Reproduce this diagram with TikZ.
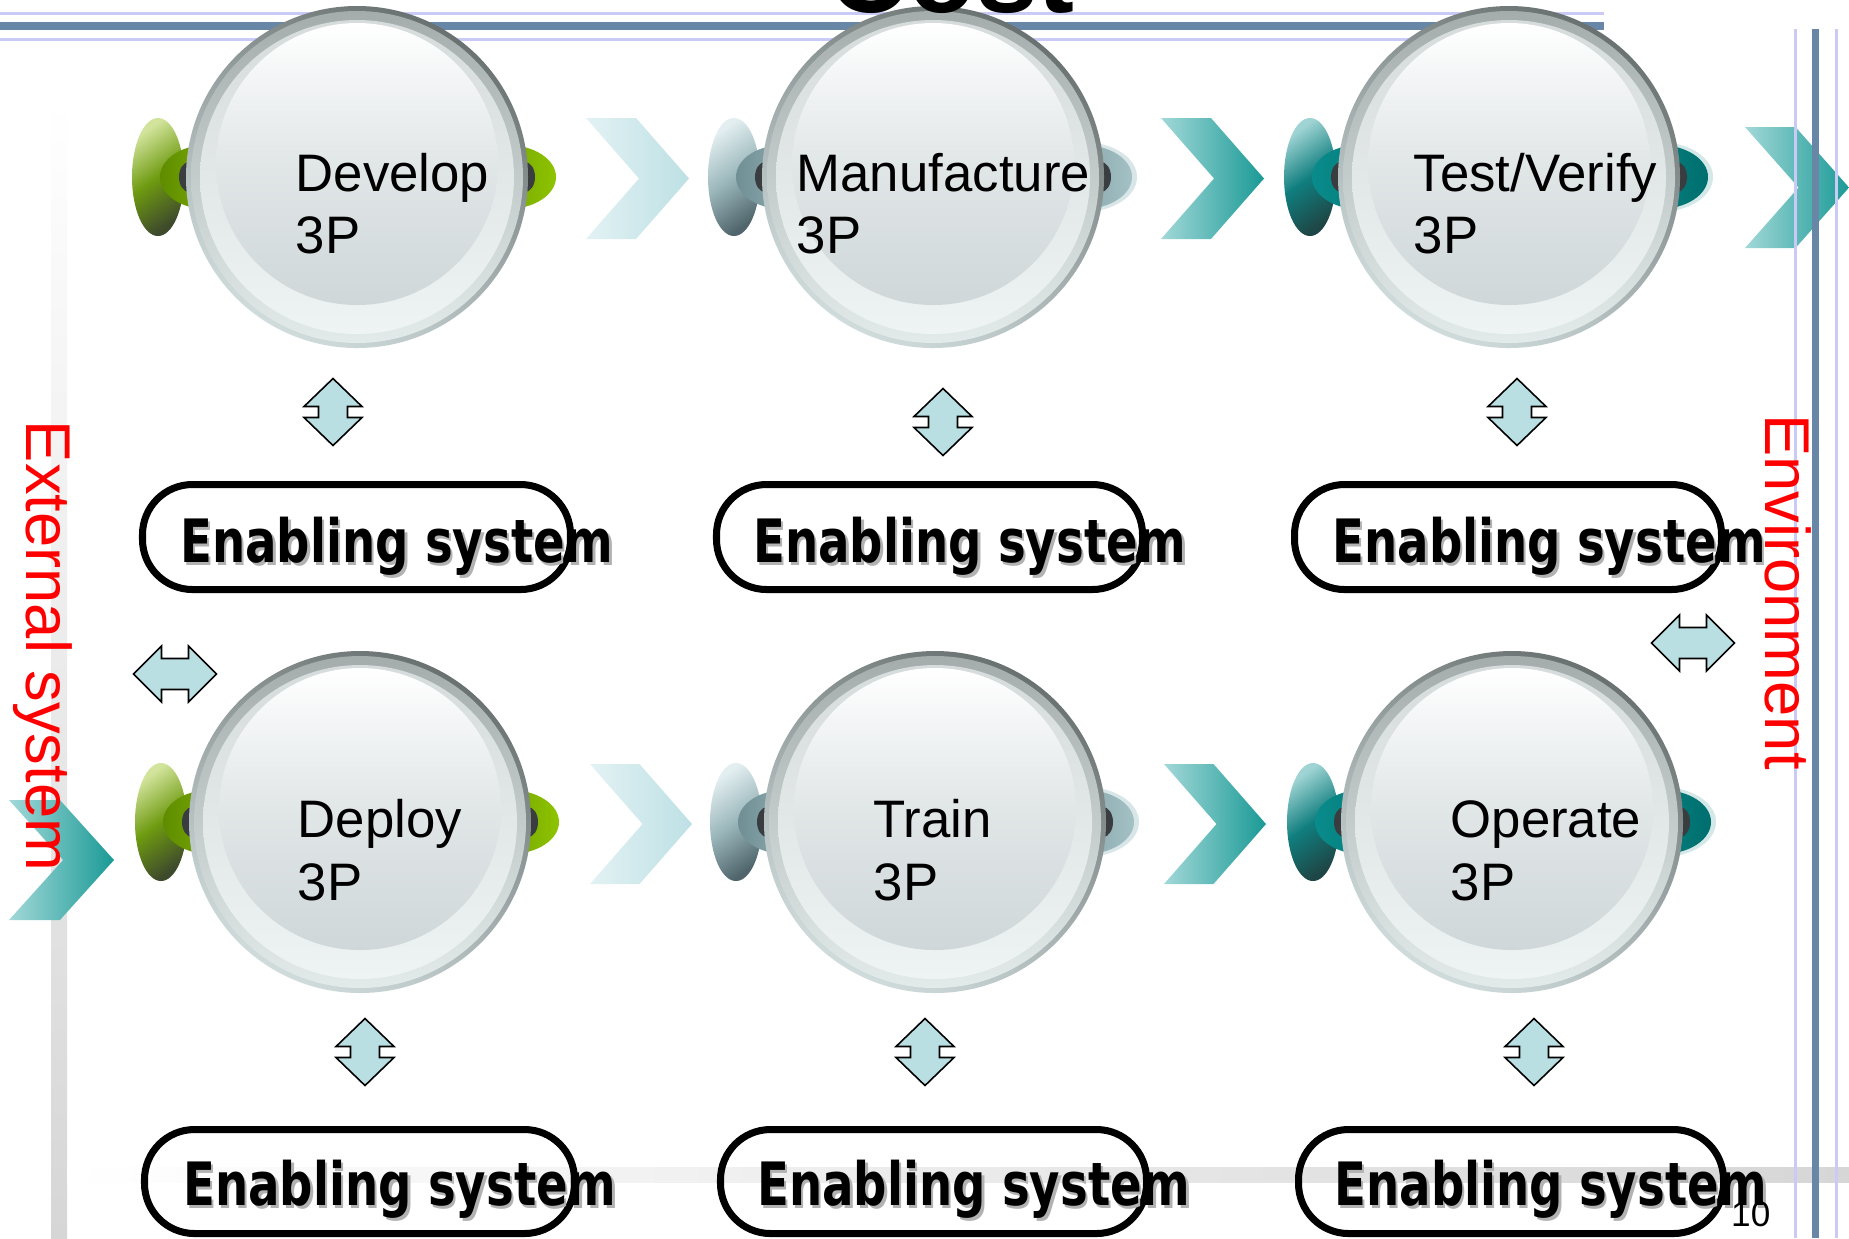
\documentclass[tikz,border=0pt]{standalone}
\usepackage{fontspec}
\usepackage{graphicx}
\setmainfont{Liberation Sans}
\newfontfamily\esfont{DejaVu Sans}

% frame lines and bands
\definecolor{lavline}{HTML}{CACAF6}
\definecolor{slateline}{HTML}{6886A6}
\definecolor{bandgray}{HTML}{D6D6D6}
\definecolor{arrowfill}{HTML}{B9DFE3}
% chevrons
\definecolor{paleL}{HTML}{E3F2F4}
\definecolor{paleR}{HTML}{BDE0E4}
\definecolor{tealL}{HTML}{A2D8D8}
\definecolor{tealR}{HTML}{1A9A96}
% glass orb
\definecolor{orbrimdark}{HTML}{6A7171}
\definecolor{orbrimlight}{HTML}{D0DCDC}
\definecolor{orbbandtop}{HTML}{A4ACAC}
\definecolor{orbbandbot}{HTML}{E2EAEA}
\definecolor{orbfacetop}{HTML}{D6DBDB}
\definecolor{orbfacebot}{HTML}{EEF3F3}
\definecolor{orbinnermid}{HTML}{E1E6E7}
\definecolor{orbinnerbot}{HTML}{CFD7D8}
\definecolor{orbcore}{HTML}{3A3D40}
% green side pieces
\definecolor{ghalo}{HTML}{FFFFFF}
\definecolor{ghi}{HTML}{D2E49C}
\definecolor{gmid}{HTML}{6E9A10}
\definecolor{glo}{HTML}{3E4A2C}
\definecolor{gwl}{HTML}{5E8C00}
\definecolor{gwr}{HTML}{8EC400}
% blue-grey side pieces
\definecolor{bhalo}{HTML}{D8E6E8}
\definecolor{bhi}{HTML}{E2EEF0}
\definecolor{bmid}{HTML}{9AB6BA}
\definecolor{blo}{HTML}{50666C}
\definecolor{bwl}{HTML}{708F95}
\definecolor{bwr}{HTML}{A4C2C6}
% teal side pieces
\definecolor{thalo}{HTML}{D4E8E8}
\definecolor{thi}{HTML}{A0D4D4}
\definecolor{tmid}{HTML}{107E7E}
\definecolor{tlo}{HTML}{1F4646}
\definecolor{twl}{HTML}{0A8C8C}
\definecolor{twr}{HTML}{006E6E}

\tikzset{
  orblabel/.style={font=\fontsize{15}{18}\selectfont, anchor=base west, inner sep=0pt},
  sidelabel/.style={font=\fontsize{18}{22}\selectfont, text=red, rotate=-90, anchor=base, inner sep=0pt},
  enbox/.style={draw=black, line width=2pt, rounded corners=0.5cm},
  enlabel/.style={font=\esfont\bfseries\fontsize{17}{20}\selectfont, anchor=base, inner sep=0pt},
  arrowshape/.style={draw=black, line width=0.45pt, fill=arrowfill, line join=miter},
  pics/vbiarrow/.style={code={
    \path[arrowshape] (0,-33.5) -- (29,-5.5) -- (14.5,-5.5) -- (14.5,5.5) -- (29,5.5)
      -- (0,33.5) -- (-29,5.5) -- (-14.5,5.5) -- (-14.5,-5.5) -- (-29,-5.5) -- cycle;
  }},
  pics/hbiarrow/.style={code={
    \path[arrowshape] (-41.5,0) -- (-13.5,-28) -- (-13.5,-15.5) -- (13.5,-15.5) -- (13.5,-28)
      -- (41.5,0) -- (13.5,28) -- (13.5,15.5) -- (-13.5,15.5) -- (-13.5,28) -- cycle;
  }},
}

% chevron: left x, top y, bottom y, width, left colour, right colour
\newcommand\drawchev[6]{%
  \shade[left color=#5, right color=#6]
    (#1,#2) -- ({#1+0.485*#4},#2) -- ({#1+#4},{(#2+#3)/2}) -- ({#1+0.485*#4},#3)
    -- (#1,#3) -- ({#1+0.515*#4},{(#2+#3)/2}) -- cycle;}

% glass orb with its side pieces: centre x, centre y, colour prefix
\newcommand\draworb[3]{%
  \begin{scope}[shift={(#1,#2)}]
    % right lug with its light rim
    \fill[#3halo] (150,0) ellipse [x radius=54, y radius=35];
    % left cap
    \shade[top color=#3hi, bottom color=#3lo, middle color=#3mid, shading angle=35]
      (-199,0) ellipse [x radius=26, y radius=59];
    % lugs on both sides
    \shade[left color=#3wl, right color=#3wr] (-150,0) ellipse [x radius=47, y radius=32];
    \shade[left color=#3wl, right color=#3wr] (150,0) ellipse [x radius=49, y radius=32];
    \fill[orbcore] (-168,0) ellipse [x radius=10, y radius=15];
    \fill[orbcore] (168,0) ellipse [x radius=10, y radius=15];
    % glass body
    \shade[top color=orbrimdark, bottom color=orbrimlight, shading angle=-30]
      (0,0) circle [radius=171];
    \shade[top color=orbbandtop, bottom color=orbbandbot] (0,0) circle [radius=166];
    \shade[top color=orbfacetop, bottom color=orbfacebot] (0,0) circle [radius=157];
    \shade[top color=white, bottom color=orbinnerbot, middle color=orbinnermid]
      (0,-13) circle [radius=141];
  \end{scope}}

% shadowed label of an enabling system: name, x, baseline y
\newcommand\enlabel[3]{%
  \node[enlabel, text=black!30] (#1s) at ({#2+2.5},{#3+3.5}) {\scalebox{0.78}[1]{Enabling system}};
  \node[enlabel] (#1) at (#2,#3) {\scalebox{0.78}[1]{Enabling system}};}

\begin{document}
\begin{tikzpicture}[x=0.01cm, y=-0.01cm]
  \useasboundingbox (0,0) rectangle (1849,1238);
  \fill[white] (0,0) rectangle (1849,1238);

  % background bands
  \shade[top color=white, bottom color=bandgray] (51,100) rectangle (67,1238);
  \shade[left color=white, right color=bandgray] (67,1167) rectangle (1849,1182);

  % chevrons
  \drawchev{586}{118}{239}{103}{paleL}{paleR}
  \drawchev{1161}{118}{239}{103}{tealL}{tealR}
  \drawchev{1745}{127}{248}{104}{tealL}{tealR}
  \drawchev{590}{764}{884}{102}{paleL}{paleR}
  \drawchev{1164}{764}{884}{102}{tealL}{tealR}
  \drawchev{9}{800}{920}{105}{tealL}{tealR}

  % frame lines
  \draw[lavline, line width=0.85pt] (0,13) -- (1604,13);
  \draw[slateline, line width=2.3pt] (0,26) -- (1604,26);
  \draw[lavline, line width=0.85pt] (0,39) -- (1604,39);
  \draw[lavline, line width=0.85pt] (1795,29) -- (1795,1238);
  \draw[slateline, line width=2pt] (1815.5,29) -- (1815.5,1238);
  \draw[lavline, line width=0.85pt] (1836,29) -- (1836,1238);

  % life-cycle stages
  \draworb{357}{177}{g}
  \draworb{933}{177}{b}
  \draworb{1509}{177}{t}
  \draworb{360}{822}{g}
  \draworb{935}{822}{b}
  \draworb{1512}{822}{t}

  \node[orblabel] (dev1) at (295,191) {Develop};
  \node[orblabel] (dev2) at (295,253) {3P};
  \node[orblabel] (man1) at (796,191) {Manufacture};
  \node[orblabel] (man2) at (796,253) {3P};
  \node[orblabel] (tst1) at (1413,191) {Test/Verify};
  \node[orblabel] (tst2) at (1413,253) {3P};
  \node[orblabel] (dep1) at (297,837) {Deploy};
  \node[orblabel] (dep2) at (297,900) {3P};
  \node[orblabel] (trn1) at (873,837) {Train};
  \node[orblabel] (trn2) at (873,900) {3P};
  \node[orblabel] (opr1) at (1450,837) {Operate};
  \node[orblabel] (opr2) at (1450,900) {3P};

  % two-way links
  \pic at (333,412) {vbiarrow};
  \pic at (943,422) {vbiarrow};
  \pic at (1517,412) {vbiarrow};
  \pic at (365,1052) {vbiarrow};
  \pic at (925,1052) {vbiarrow};
  \pic at (1534,1052) {vbiarrow};
  \pic at (175,674) {hbiarrow};
  \pic at (1693,643) {hbiarrow};

  % enabling systems
  \draw[enbox] (142.5,484.5) rectangle (570.5,589.5);
  \draw[enbox] (716.5,484.5) rectangle (1142.5,589.5);
  \draw[enbox] (1294.5,484.5) rectangle (1721.5,589.5);
  \draw[enbox] (144.5,1129.5) rectangle (574.5,1233.5);
  \draw[enbox] (720.5,1129.5) rectangle (1146.5,1233.5);
  \draw[enbox] (1298.5,1129.5) rectangle (1723.5,1233.5);
  \enlabel{es11}{397}{562}
  \enlabel{es12}{970}{562}
  \enlabel{es13}{1549}{562}
  \enlabel{es21}{400}{1205}
  \enlabel{es22}{974}{1205}
  \enlabel{es23}{1551}{1205}

  % surroundings
  \node[sidelabel] (ext) at (27,646) {External system};
  \node[sidelabel] (env) at (1765,592) {Environment};

  % slide title, mostly above the top edge, and page number
  \node[font=\bfseries\fontsize{31.5}{34}\selectfont, anchor=base west, inner sep=0pt] (title) at (828,12) {Cost};
  \node[font=\fontsize{10}{12}\selectfont, anchor=base east, inner sep=0pt] (pgno) at (1771,1226) {10};
\end{tikzpicture}
\end{document}
